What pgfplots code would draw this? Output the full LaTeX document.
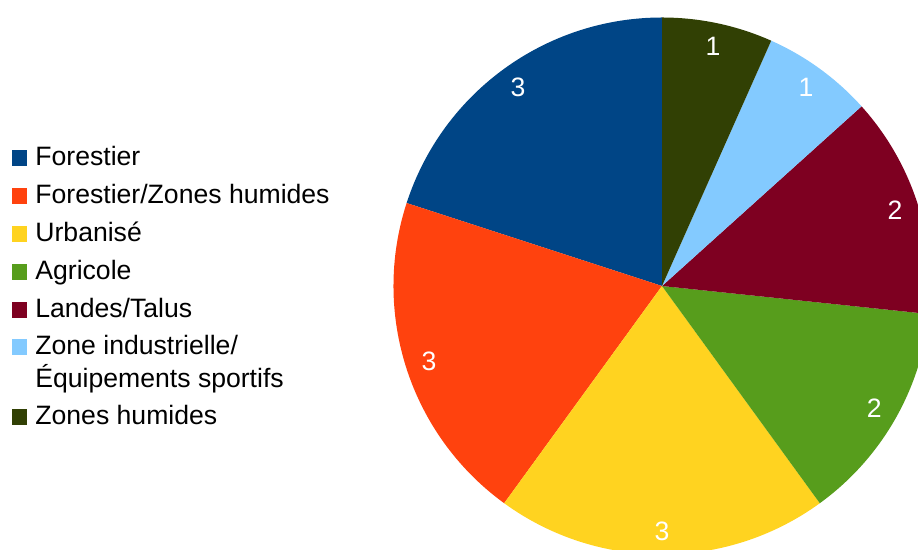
\documentclass[border=0pt]{standalone}
\usepackage{fontspec}
\setmainfont{Liberation Sans}
\usepackage{pgfplots}
\pgfplotsset{compat=1.18}
\definecolor{cForest}{HTML}{004586}
\definecolor{cForZH}{HTML}{FF420E}
\definecolor{cUrb}{HTML}{FFD320}
\definecolor{cAgr}{HTML}{579D1C}
\definecolor{cLand}{HTML}{7E0021}
\definecolor{cZI}{HTML}{83CAFF}
\definecolor{cZH}{HTML}{314004}
% slice values
\def\vA{3}\def\vB{3}\def\vC{3}\def\vD{2}\def\vE{2}\def\vF{1}\def\vG{1}
\pgfmathsetmacro\tot{\vA+\vB+\vC+\vD+\vE+\vF+\vG}
\pgfmathsetmacro\aA{90}
\pgfmathsetmacro\aB{\aA+360*\vA/\tot}
\pgfmathsetmacro\aC{\aB+360*\vB/\tot}
\pgfmathsetmacro\aD{\aC+360*\vC/\tot}
\pgfmathsetmacro\aE{\aD+360*\vD/\tot}
\pgfmathsetmacro\aF{\aE+360*\vE/\tot}
\pgfmathsetmacro\aG{\aF+360*\vF/\tot}
\pgfmathsetmacro\aH{\aG+360*\vG/\tot}
\def\cx{662}\def\cy{264}\def\R{134.25pt}\def\rl{245}
\newcommand\slice[3]{%
  \fill[#3] (axis cs:\cx,\cy) -- ++(#1:\R) arc[start angle=#1, end angle=#2, radius=\R] -- cycle;}
\newcommand\plabel[3]{%
  \node[text=white, font=\fontsize{13.3}{16}\selectfont, inner sep=0pt] at (axis cs:{\cx+\rl*cos((#1+#2)/2)},{\cy+\rl*sin((#1+#2)/2)}) {#3};}
\newcommand\lentry[3]{%
  \fill[#2] (axis cs:12,{550-#1}) rectangle (axis cs:27,{550-#1+16});
  \node[anchor=base west, inner sep=0pt, font=\fontsize{13.3}{16}\selectfont] at (axis cs:35,{550-#1}) {#3};}
\begin{document}
\begin{tikzpicture}
\begin{axis}[scale only axis, width=459pt, height=275pt,
  xmin=0, xmax=918, ymin=0, ymax=550, hide axis, clip=true]
\addplot[draw=none] coordinates {(0,0) (918,550)};
\slice{\aA}{\aB}{cForest}
\slice{\aB}{\aC}{cForZH}
\slice{\aC}{\aD}{cUrb}
\slice{\aD}{\aE}{cAgr}
\slice{\aE}{\aF}{cLand}
\slice{\aF}{\aG}{cZI}
\slice{\aG}{\aH}{cZH}
\plabel{\aA}{\aB}{\vA}
\plabel{\aB}{\aC}{\vB}
\plabel{\aC}{\aD}{\vC}
\plabel{\aD}{\aE}{\vD}
\plabel{\aE}{\aF}{\vE}
\plabel{\aF}{\aG}{\vF}
\plabel{\aG}{\aH}{\vG}
\lentry{166}{cForest}{Forestier}
\lentry{204}{cForZH}{Forestier/Zones humides}
\lentry{242}{cUrb}{Urbanisé}
\lentry{280}{cAgr}{Agricole}
\lentry{318}{cLand}{Landes/Talus}
\lentry{355}{cZI}{Zone industrielle/}
\node[anchor=base west, inner sep=0pt, font=\fontsize{13.3}{16}\selectfont] at (axis cs:35,{550-388}) {Équipements sportifs};
\lentry{425}{cZH}{Zones humides}
\end{axis}
\path (0,0) rectangle (459pt,275pt);
\end{tikzpicture}
\end{document}
